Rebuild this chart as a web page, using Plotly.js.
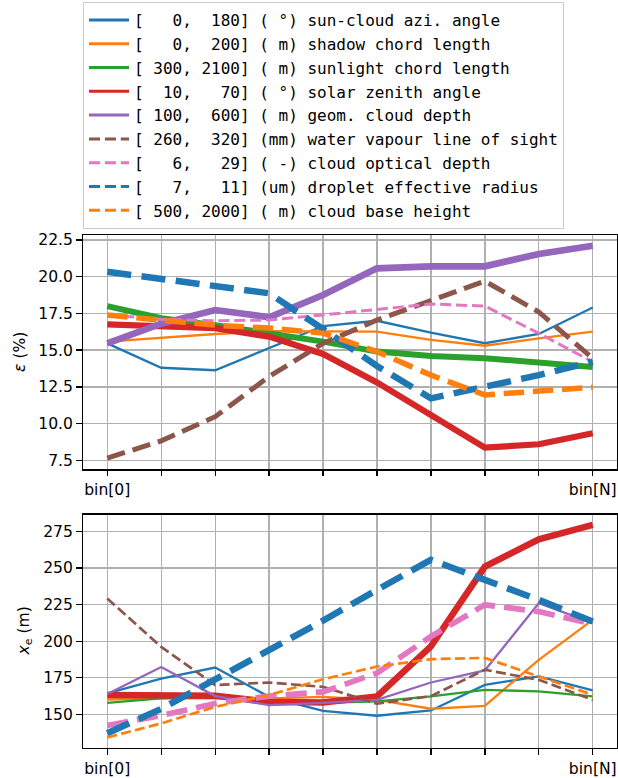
<!DOCTYPE html>
<html>
<head>
<meta charset="utf-8">
<script src="https://cdn.plot.ly/plotly-3.0.1.min.js"></script>
<style>html,body{margin:0;padding:0;background:#fff;}#chart{width:618px;height:778px;}</style>
</head>
<body>
<div id="chart"></div>
<script>
// ---------- data ----------
const bins = [0, 1, 2, 3, 4, 5, 6, 7, 8, 9];
const labelledBins = [0, 9];
const binLabels = ["bin[0]", "bin[N]"];

const seriesNames = [
  "[   0,  180] ( °) sun-cloud azi. angle",
  "[   0,  200] ( m) shadow chord length",
  "[ 300, 2100] ( m) sunlight chord length",
  "[  10,   70] ( °) solar zenith angle",
  "[ 100,  600] ( m) geom. cloud depth",
  "[ 260,  320] (mm) water vapour line of sight",
  "[   6,   29] ( -) cloud optical depth",
  "[   7,   11] (um) droplet effective radius",
  "[ 500, 2000] ( m) cloud base height"
];
const seriesColors = ["#1f77b4", "#ff7f0e", "#2ca02c", "#d62728", "#9467bd", "#8c564b", "#e377c2", "#1f77b4", "#ff7f0e"];
const seriesDashed = [false, false, false, false, false, true, true, true, true];

const topTitle = "<i>ε</i> (%)";
const botTitle = "<i>x</i><sub>e</sub> (m)";

const topTicks = [7.5, 10, 12.5, 15, 17.5, 20, 22.5];
const topTickText = ["7.5", "10.0", "12.5", "15.0", "17.5", "20.0", "22.5"];
const botTicks = [150, 175, 200, 225, 250, 275];
const botTickText = ["150", "175", "200", "225", "250", "275"];

// top panel: epsilon (%)
const epsAzi      = [15.46, 13.8, 13.63, 15.12, 16.64, 17.0, 16.19, 15.47, 16.1, 17.9];
const epsShadow   = [15.58, 15.85, 16.1, 16.3, 16.3, 16.26, 15.7, 15.3, 15.8, 16.26];
const epsSunlight = [18.0, 17.17, 16.7, 16.15, 15.58, 14.9, 14.6, 14.45, 14.2, 13.85];
const epsSza      = [16.76, 16.64, 16.5, 15.92, 14.74, 12.8, 10.6, 8.36, 8.59, 9.34];
const epsDepth    = [15.46, 16.8, 17.73, 17.24, 18.75, 20.57, 20.71, 20.71, 21.55, 22.11];
const epsWv       = [7.65, 8.82, 10.47, 13.2, 15.46, 17.05, 18.37, 19.7, 17.6, 14.44];
const epsCod      = [17.4, 17.1, 17.0, 17.05, 17.4, 17.78, 18.14, 18.0, 16.15, 14.2];
const epsReff     = [20.34, 19.85, 19.32, 18.87, 16.44, 13.92, 11.72, 12.47, 13.3, 14.22];
const epsCbh      = [17.39, 17.0, 16.7, 16.5, 16.16, 14.9, 13.3, 11.95, 12.2, 12.47];

// bottom panel: x_e (m)
const xeAzi      = [164.3, 174.5, 182, 162, 152.5, 149.1, 152.7, 170.2, 175.9, 166.4];
const xeShadow   = [160.2, 160.9, 160.9, 160.9, 162, 160, 153.9, 155.9, 187.3, 214.5];
const xeSunlight = [157.9, 160.9, 162, 160, 157.9, 158.9, 162.3, 166.8, 165.7, 162.3];
const xeSza      = [163.2, 163.4, 162.8, 158.6, 158.2, 162.3, 196.4, 250.9, 269.5, 279.3];
const xeDepth    = [164, 182.4, 162.5, 156.3, 157.9, 160, 171.8, 180, 225.9, 212.3];
const xeWv       = [229.1, 196.1, 170, 171.8, 168.8, 157.3, 162.5, 180.5, 173.6, 160];
const xeCod      = [142.5, 149.3, 157.5, 162.5, 165.4, 178.2, 203.2, 224.8, 220.2, 211.8];
const xeReff     = [137.2, 153.8, 173.9, 193.8, 214, 235, 255.5, 241.8, 228.2, 213.4];
const xeCbh      = [134.3, 143.9, 155.2, 163.2, 174, 182.7, 187.7, 188.6, 175.9, 163.4];

const topSeries = [epsAzi, epsShadow, epsSunlight, epsSza, epsDepth, epsWv, epsCod, epsReff, epsCbh];
const botSeries = [xeAzi, xeShadow, xeSunlight, xeSza, xeDepth, xeWv, xeCod, xeReff, xeCbh];

// line widths (px) per panel
const topWidths = [2.3, 2.3, 6, 6.2, 6.7, 5, 3, 6.5, 5.5];
const botWidths = [2.3, 2.3, 2.3, 6.5, 2.3, 2.7, 5.7, 6.5, 2.7];

// ---------- build ----------
function dashFor(dashed, w) {
  if (!dashed) return "solid";
  return (3.7 * w).toFixed(1) + "px," + (1.6 * w).toFixed(1) + "px";
}
const nbsp = s => s.replace(/ /g, "\u00a0");

const traces = [];
// legend-only entries
seriesNames.forEach((nm, i) => {
  traces.push({
    x: [null], y: [null], type: "scatter", mode: "lines",
    name: nbsp(nm), legendgroup: "g" + i, showlegend: true,
    line: {color: seriesColors[i], width: 3, dash: dashFor(seriesDashed[i], 3)},
    xaxis: "x", yaxis: "y", hoverinfo: "skip"
  });
});
topSeries.forEach((ys, i) => {
  traces.push({
    x: bins, y: ys, type: "scatter", mode: "lines", legendgroup: "g" + i, showlegend: false,
    line: {color: seriesColors[i], width: topWidths[i], dash: dashFor(seriesDashed[i], topWidths[i])},
    xaxis: "x", yaxis: "y"
  });
});
botSeries.forEach((ys, i) => {
  traces.push({
    x: bins, y: ys, type: "scatter", mode: "lines", legendgroup: "g" + i, showlegend: false,
    line: {color: seriesColors[i], width: botWidths[i], dash: dashFor(seriesDashed[i], botWidths[i])},
    xaxis: "x2", yaxis: "y2"
  });
});

const tickFont = {family: "DejaVu Sans", size: 15.6, color: "#000"};
const common = {
  showline: true, linecolor: "#000", linewidth: 1.3, mirror: true,
  ticks: "outside", ticklen: 5.6, tickwidth: 1.3, tickcolor: "#000",
  showgrid: true, gridcolor: "#b0b0b0", gridwidth: 1.3, zeroline: false,
  tickfont: tickFont, automargin: false
};
const xcommon = Object.assign({}, common, {
  range: [-0.45, 9.45], tickmode: "array", tickvals: labelledBins, ticktext: binLabels,
  minor: {tick0: 0, dtick: 1, ticks: "outside", ticklen: 5.6, tickwidth: 1.3, tickcolor: "#000",
          showgrid: true, gridcolor: "#b0b0b0", gridwidth: 1.3}
});

const W = 618, H = 778, ML = 83, MT = 235, MB = 30;
const plotW = W - ML - 1, plotH = H - MT - MB;
const titleFont = {family: "DejaVu Sans", size: 15.6, color: "#000"};

const layout = {
  width: W, height: H,
  margin: {l: ML, r: 1, t: MT, b: MB, pad: 0, autoexpand: false},
  paper_bgcolor: "#fff", plot_bgcolor: "#fff",
  showlegend: true,
  legend: {
    x: 83 / W, y: 1 - 2 / H, xref: "container", yref: "container",
    xanchor: "left", yanchor: "top",
    bgcolor: "rgba(255,255,255,0.8)", bordercolor: "#cccccc", borderwidth: 1,
    font: {family: "DejaVu Sans Mono", size: 16, color: "#000"},
    traceorder: "normal", itemwidth: 40
  },
  xaxis: Object.assign({}, xcommon, {anchor: "y", domain: [0, 1]}),
  xaxis2: Object.assign({}, xcommon, {anchor: "y2", domain: [0, 1]}),
  yaxis: Object.assign({}, common, {
    anchor: "x", domain: [0.5433, 1], range: [6.887, 22.84],
    tickmode: "array", tickvals: topTicks, ticktext: topTickText
  }),
  yaxis2: Object.assign({}, common, {
    anchor: "x2", domain: [0, 0.4548], range: [127.1, 286.3],
    tickmode: "array", tickvals: botTicks, ticktext: botTickText
  }),
  annotations: [
    {text: topTitle, xref: "paper", yref: "paper", x: (20 - ML) / plotW, y: (H - MB - 352) / plotH,
     xanchor: "center", yanchor: "middle", textangle: -90, showarrow: false, font: titleFont},
    {text: botTitle, xref: "paper", yref: "paper", x: (24 - ML) / plotW, y: (H - MB - 631.5) / plotH,
     xanchor: "center", yanchor: "middle", textangle: -90, showarrow: false, font: titleFont}
  ]
};

Plotly.newPlot("chart", traces, layout, {displayModeBar: false, staticPlot: true});
</script>
</body>
</html>
